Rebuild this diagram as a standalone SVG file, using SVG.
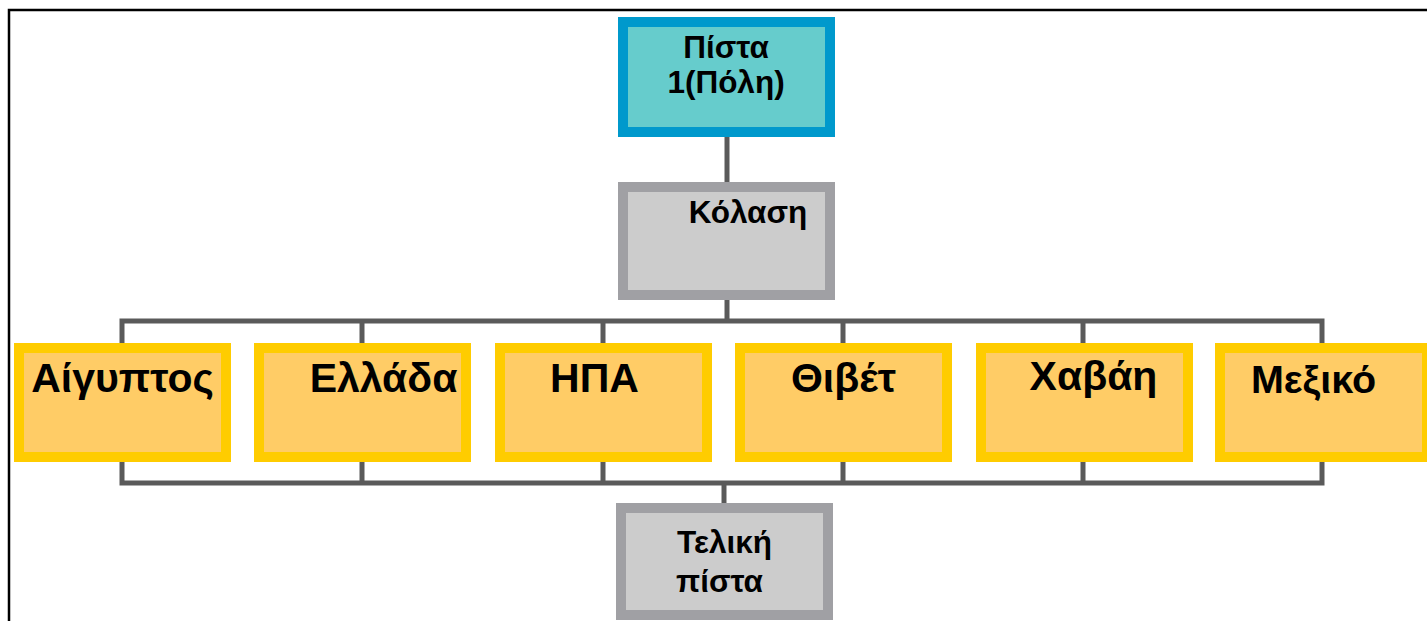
<svg xmlns="http://www.w3.org/2000/svg" width="1427" height="621" viewBox="0 0 1427 621">
<style>
text{font-family:"Liberation Sans",Arial,sans-serif;font-weight:bold;fill:#000;text-anchor:middle}
.blue{fill:#66CCCC;stroke:#0099CC;stroke-width:10}
.gray{fill:#CCCCCC;stroke:#A0A0A4;stroke-width:10}
.yel{fill:#FFCC66;stroke:#FFCC00;stroke-width:10}
.conn{fill:none;stroke:#5A5A5A;stroke-width:5}
.t1{font-size:31.5px}
.t2{font-size:41px}
</style>
<rect width="1427" height="621" fill="#fff"/>
<path d="M9 621 V10 H1427" fill="none" stroke="#000" stroke-width="2.5"/>
<g id="connectors" class="conn">
<path d="M727 137 V182"/>
<path d="M727 300 V321"/>
<path d="M122 343 V321 H1322 V343"/>
<path d="M362 321 V343 M603 321 V343 M843 321 V343 M1083 321 V343"/>
<path d="M122 462 V483 H1322 V462"/>
<path d="M362 462 V483 M603 462 V483 M843 462 V483 M1083 462 V483"/>
<path d="M724 483 V503"/>
</g>
<g id="n-pista1">
<rect class="blue" x="623" y="22" width="207" height="110"/>
<text class="t1" x="726" y="58">Πίστα</text>
<text class="t1" x="726" y="93">1(Πόλη)</text>
</g>
<g id="n-kolasi">
<rect class="gray" x="623" y="187" width="207" height="108"/>
<text class="t1" x="748" y="223">Κόλαση</text>
</g>
<g id="n-aigyptos">
<rect class="yel" x="19" y="348" width="207" height="109"/>
<text class="t2" x="122.5" y="392">Αίγυπτος</text>
</g>
<g id="n-ellada">
<rect class="yel" x="259" y="348" width="207" height="109"/>
<text class="t2" x="383.5" y="392">Ελλάδα</text>
</g>
<g id="n-ipa">
<rect class="yel" x="500" y="348" width="207" height="109"/>
<text class="t2" x="594.5" y="392">ΗΠΑ</text>
</g>
<g id="n-thivet">
<rect class="yel" x="740" y="348" width="207" height="109"/>
<text class="t2" x="843.5" y="392">Θιβέτ</text>
</g>
<g id="n-havai">
<rect class="yel" x="981" y="348" width="207" height="109"/>
<text class="t2" x="1093.5" y="390">Χαβάη</text>
</g>
<g id="n-mexiko">
<rect class="yel" x="1220" y="348" width="207" height="109"/>
<text class="t2" x="1313.5" y="393" style="font-size:39.5px">Μεξικό</text>
</g>
<g id="n-teliki">
<rect class="gray" x="621" y="508" width="207" height="107"/>
<text class="t1" x="724.5" y="553">Τελική</text>
<text class="t1" x="719.5" y="592">πίστα</text>
</g>
</svg>
